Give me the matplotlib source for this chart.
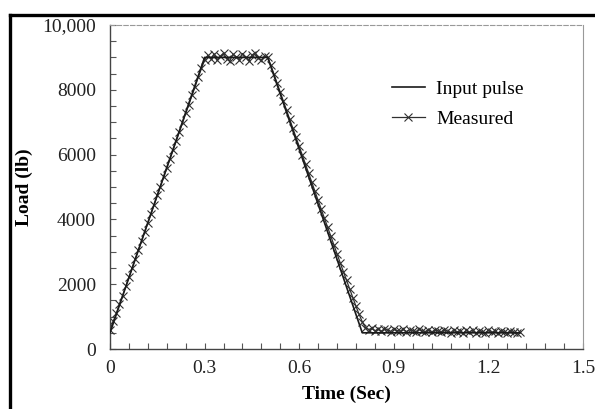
import numpy as np
from matplotlib import pyplot as plt
from matplotlib.lines import Line2D
from matplotlib.ticker import MultipleLocator, FuncFormatter

# input pulse (corner points)
pulse_time = [0.0, 0.3, 0.5, 0.8, 1.3]
pulse_load = [500, 9000, 9000, 500, 500]

# measured load, sampled every 0.01 s from 0 to 1.3 s
measured_time = [round(i * 0.01, 2) for i in range(131)]
measured_load = [
    600, 850, 1100, 1390, 1650, 1940, 2220, 2490, 2780, 3050,
    3330, 3610, 3890, 4170, 4450, 4740, 5010, 5300, 5580, 5860,
    6140, 6420, 6700, 6980, 7270, 7540, 7830, 8100, 8390, 8660,
    8920, 9060, 8950, 9110, 8920, 9040, 9130, 8960, 8900, 9090,
    9020, 8930, 9120, 9000, 8890, 9070, 9140, 8970, 8920, 9050,
    9000, 8760, 8480, 8200, 7930, 7650, 7370, 7090, 6810, 6530,
    6260, 5980, 5700, 5420, 5140, 4870, 4590, 4310, 4040, 3760,
    3490, 3210, 2940, 2660, 2390, 2120, 1850, 1580, 1320, 1070,
    840, 660, 600, 640, 560, 620, 550, 610, 590, 540,
    630, 570, 550, 610, 540, 600, 570, 530, 620, 560,
    540, 600, 520, 590, 560, 530, 600, 550, 500, 590,
    530, 560, 490, 580, 520, 590, 480, 570, 540, 500,
    580, 510, 550, 480, 570, 530, 500, 560, 510, 480,
    530,
]

y_ticks = [0, 2000, 4000, 6000, 8000, 10000]
x_ticks = [0, 0.3, 0.6, 0.9, 1.2, 1.5]

plt.rcParams['font.family'] = ['Liberation Serif', 'DejaVu Serif']

fig = plt.figure(figsize=(5.95, 4.09), dpi=100)
ax = fig.add_axes([110 / 595, 60 / 409, 473 / 595, 324 / 409])

ink = '#1a1a1a'
ax.plot(pulse_time, pulse_load, color=ink, lw=1.2, label='Input pulse', zorder=3)
ax.plot(measured_time, measured_load, color='#303030', lw=0.9, marker='x', ms=5.8,
        mew=0.8, label='Measured', zorder=2)

ax.set_xlim(0, 1.5)
ax.set_ylim(0, 10000)
ax.set_xticks(x_ticks)
ax.set_yticks(y_ticks)
ax.xaxis.set_major_formatter(FuncFormatter(lambda v, p: f'{v:g}'))
ax.yaxis.set_major_formatter(FuncFormatter(lambda v, p: '10,000' if v >= 10000 else f'{v:.0f}'))
ax.xaxis.set_minor_locator(MultipleLocator(0.06))
ax.yaxis.set_minor_locator(MultipleLocator(500))
ax.tick_params(which='both', direction='in', length=4, width=0.8, color='#555555',
               labelsize=14, labelcolor='#222222', top=False, right=False)
ax.tick_params(axis='x', pad=8)
ax.tick_params(axis='y', pad=10)

for side in ['left', 'bottom']:
    ax.spines[side].set_color('#444444')
    ax.spines[side].set_linewidth(1.0)
ax.spines['right'].set_color('#999999')
ax.spines['right'].set_linewidth(0.8)
ax.spines['top'].set_color('#999999')
ax.spines['top'].set_linewidth(0.8)
ax.spines['top'].set_linestyle((0, (4, 2)))

ax.set_xlabel('Time (Sec)', fontsize=14, fontweight='bold', labelpad=6)
ax.set_ylabel('Load (lb)', fontsize=14, fontweight='bold', labelpad=7)

ax.legend(loc='upper left', bbox_to_anchor=(0.579, 0.853), frameon=False,
          fontsize=14, handlelength=1.7, handletextpad=0.6, labelspacing=0.62,
          borderaxespad=0)

# thick frame around the figure (left and top edges visible)
fx = 9.5 / 595
fy = 1 - 14.5 / 409
fig.add_artist(Line2D([fx, fx], [0, fy], transform=fig.transFigure, color='black', lw=2.4))
fig.add_artist(Line2D([fx, 1], [fy, fy], transform=fig.transFigure, color='black', lw=2.4))

fig.savefig('out.png', dpi=100)
